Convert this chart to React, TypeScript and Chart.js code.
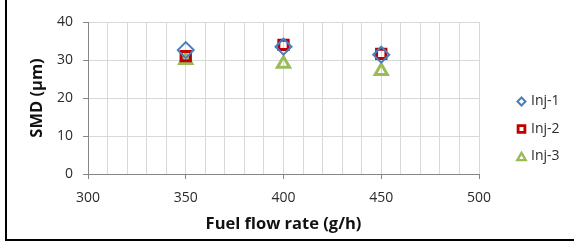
import React, { useEffect, useRef } from "react";
import { Chart, registerables } from "chart.js";
import { drawPoint } from "chart.js/helpers";

Chart.register(...registerables);

const xValues = [350, 400, 450];
const inj1 = [32.6, 33.5, 31.4];
const inj2 = [31.0, 34.0, 31.6];
const inj3 = [30.0, 29.0, 27.1];
const seriesNames = ["Inj-1", "Inj-2", "Inj-3"];
const xTitle = "Fuel flow rate (g/h)";
const yTitle = "SMD (µm)";

const W = 574;
const H = 247;
const FONT = "'Open Sans', 'Liberation Sans', sans-serif";
const TEXT = "#2b2b2b";

const legendMarkers = [
  { pointStyle: "rectRot", radius: 4, borderWidth: 2 },
  { pointStyle: "rect", radius: 4.8, borderWidth: 2.8 },
  { pointStyle: "triangle", radius: 4.8, borderWidth: 2.4 },
];

const sideLegend = {
  id: "sideLegend",
  afterDraw(chart: any) {
    const ctx = chart.ctx;
    ctx.save();
    chart.data.datasets.forEach((ds: any, i: number) => {
      const y = 101.5 + i * 27.5;
      const m = legendMarkers[i];
      ctx.strokeStyle = ds.borderColor;
      ctx.fillStyle = "#ffffff";
      ctx.lineWidth = m.borderWidth;
      drawPoint(ctx, { pointStyle: m.pointStyle, radius: m.radius, borderWidth: m.borderWidth, rotation: 0 } as any, 521.5, m.pointStyle === "triangle" ? y + 1.2 : y);
      ctx.fillStyle = TEXT;
      ctx.font = `14px ${FONT}`;
      ctx.textBaseline = "middle";
      ctx.textAlign = "left";
      ctx.fillText(ds.label, 531, y);
    });
    ctx.restore();
  },
};

export default function App() {
  const ref = useRef<HTMLCanvasElement | null>(null);

  useEffect(() => {
    if (!ref.current) return;
    const mk = (vals: number[]) => xValues.map((x, i) => ({ x, y: vals[i] }));
    const chart = new Chart(ref.current, {
      type: "scatter",
      data: {
        datasets: [
          {
            label: seriesNames[0],
            data: mk(inj1),
            pointStyle: "rectRot",
            pointRadius: 8,
            borderWidth: 2,
            borderColor: "#4A7EBB",
            backgroundColor: "rgba(255,255,255,0)",
          },
          {
            label: seriesNames[1],
            data: mk(inj2),
            pointStyle: "rect",
            pointRadius: 6.6,
            borderWidth: 3,
            borderColor: "#C00000",
            backgroundColor: "rgba(255,255,255,0)",
          },
          {
            label: seriesNames[2],
            data: mk(inj3),
            pointStyle: "triangle",
            pointRadius: 7,
            borderWidth: 3,
            borderColor: "#9BBB59",
            backgroundColor: "rgba(255,255,255,0)",
          },
        ],
      },
      options: {
        animation: false,
        responsive: false,
        devicePixelRatio: 1,
        layout: { padding: { left: 0, top: 22, right: 95, bottom: 0 } },
        plugins: { legend: { display: false }, tooltip: { enabled: false } },
        scales: {
          x: {
            type: "linear",
            min: 300,
            max: 500,
            afterFit: (axis: any) => {
              axis.height = H - 174;
            },
            ticks: {
              stepSize: 10,
              autoSkip: false,
              maxRotation: 0,
              padding: 11,
              color: TEXT,
              font: { family: FONT, size: 14 },
              callback: (v: any) => (Number(v) % 50 === 0 ? String(v) : ""),
            },
            grid: {
              color: "#D9D9D9",
              tickLength: 5,
              tickColor: (c: any) => (c.tick && c.tick.value % 50 === 0 ? "#868686" : "rgba(0,0,0,0)"),
            },
            border: { color: "#868686" },
            title: {
              display: true,
              text: xTitle,
              color: "#111111",
              font: { family: FONT, size: 16.5, weight: "bold" },
              padding: { top: 0, bottom: 13 },
            },
          },
          y: {
            min: 0,
            max: 40,
            afterFit: (axis: any) => {
              axis.width = 88;
            },
            ticks: {
              stepSize: 10,
              padding: 10,
              color: TEXT,
              font: { family: FONT, size: 14 },
            },
            grid: { color: "#D9D9D9", tickLength: 5, tickColor: "#868686" },
            border: { color: "#868686" },
            title: {
              display: true,
              text: yTitle,
              color: "#111111",
              font: { family: FONT, size: 16.5, weight: "bold" },
              padding: { top: 27, bottom: 0 },
            },
          },
        },
      },
      plugins: [sideLegend],
    } as any);
    return () => chart.destroy();
  }, []);

  return (
    <div
      style={{
        position: "fixed",
        left: 0,
        top: 0,
        width: W,
        height: H,
        overflow: "hidden",
        background: "#ffffff",
      }}
    >
      <div
        style={{
          position: "absolute",
          left: 5,
          top: -5,
          width: 620,
          height: 246,
          boxSizing: "border-box",
          borderLeft: "2px solid #000",
          borderBottom: "2px solid #000",
        }}
      />
      <canvas
        ref={ref}
        width={W}
        height={H}
        style={{ position: "absolute", left: 0, top: 0, width: W, height: H }}
      />
    </div>
  );
}
